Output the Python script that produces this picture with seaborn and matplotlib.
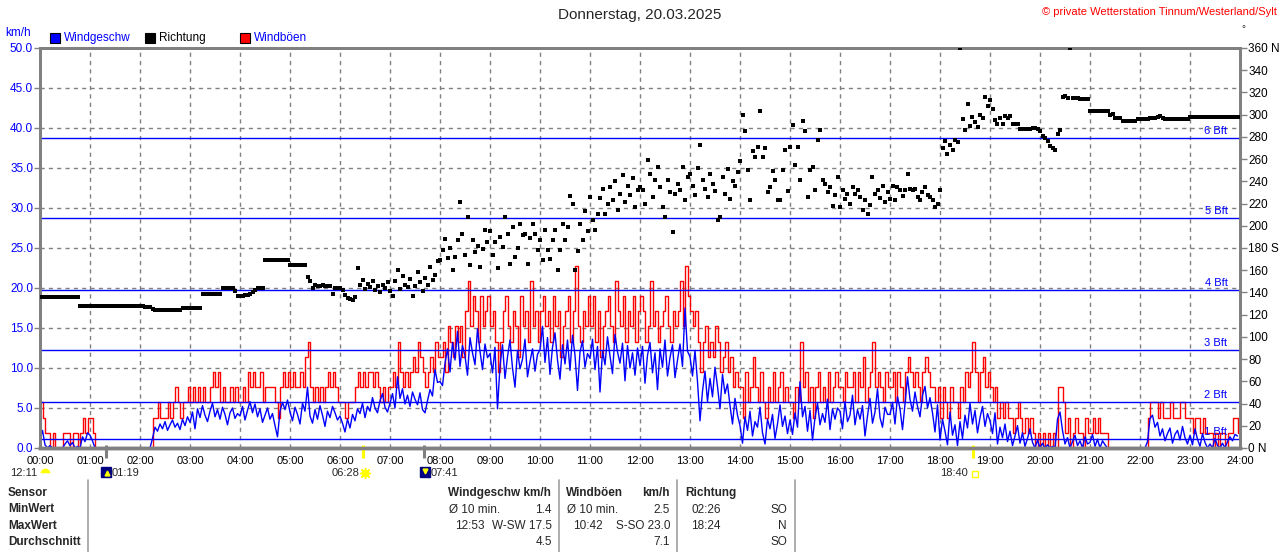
import numpy as np
import pandas as pd
import seaborn as sns
import matplotlib.pyplot as plt
from matplotlib.patches import Rectangle
from matplotlib.lines import Line2D

### Data: 3-minute samples, 20 values per hour (one row = one hour)
step_min = 3

wind_kmh = [
    1.1, 2.2, 0.4, 0.0, 0.3, 0.0, 0.0, 0.0, 0.0, 0.0, 0.5, 0.9, 0.3, 0.7, 0.0, 0.2, 0.0, 1.4, 0.8, 1.9,
    1.6, 0.9, 0.0, 0.0, 0.0, 0.0, 0.0, 0.0, 0.0, 0.0, 0.0, 0.0, 0.0, 0.0, 0.0, 0.0, 0.0, 0.0, 0.0, 0.0,
    0.0, 0.0, 0.0, 0.0, 0.0, 1.2, 2.6, 2.1, 3.0, 2.4, 3.3, 2.2, 2.9, 3.5, 2.6, 3.1, 2.3, 3.6, 2.8, 3.9,
    3.2, 4.5, 2.4, 4.9, 3.8, 5.3, 4.1, 3.3, 4.6, 5.6, 3.9, 4.8, 3.6, 5.1, 4.2, 2.9, 4.4, 5.0, 3.7, 4.3,
    4.0, 5.2, 3.5, 4.7, 5.8, 4.4, 5.5, 3.9, 4.9, 3.2, 4.1, 5.0, 3.6, 4.3, 2.8, 1.4, 4.6, 5.7, 4.8, 6.0,
    4.5, 3.4, 5.1, 4.2, 3.0, 5.6, 4.6, 7.6, 4.0, 3.1, 4.8, 3.6, 5.3, 4.1, 2.7, 4.6, 3.8, 5.2, 4.4, 3.5,
    4.0, 3.1, 2.0, 3.6, 2.5, 4.2, 3.4, 4.9, 4.3, 5.6, 3.8, 5.2, 4.6, 6.3, 5.0, 4.4, 5.9, 6.8, 5.1, 4.5,
    5.6, 6.8, 5.0, 8.9, 6.2, 7.4, 5.5, 6.6, 5.2, 7.0, 6.1, 5.4, 6.9, 4.8, 4.4, 5.9, 7.3, 6.5, 9.8, 8.2,
    8.3, 7.8, 10.6, 12.4, 9.5, 13.2, 11.0, 14.6, 10.2, 12.8, 11.5, 9.1, 13.8, 11.9, 10.4, 14.9, 12.1, 9.8, 13.0, 11.3,
    11.8, 9.4, 12.6, 4.9, 10.3, 12.9, 8.7, 11.4, 13.5, 10.0, 7.6, 12.2, 9.9, 11.1, 13.6, 8.9, 10.8, 12.4, 9.6, 11.7,
    12.3, 15.2, 10.7, 13.8, 9.2, 12.6, 14.4, 11.0, 8.6, 12.9, 10.5, 13.5, 9.7, 14.1, 11.6, 7.2, 12.0, 13.4, 10.1, 11.8,
    11.2, 13.6, 9.8, 12.7, 7.0, 12.1, 10.4, 13.9, 11.5, 9.3, 14.2, 12.0, 10.6, 13.1, 8.4, 12.8, 10.0, 11.9, 9.1, 12.5,
    10.3, 12.7, 8.1, 11.6, 13.2, 9.4, 11.9, 7.3, 12.4, 10.1, 13.5, 9.0, 11.3, 12.9, 8.8, 11.0, 13.0, 10.2, 17.5, 12.1,
    11.4, 9.0, 12.2, 8.3, 3.4, 7.1, 9.6, 5.8, 8.7, 6.4, 10.1, 7.7, 4.9, 9.2, 6.8, 8.0, 5.3, 3.0, 6.2, 4.1,
    2.8, 0.6, 3.9, 2.2, 4.6, 1.5, 3.3, 2.6, 5.1, 1.9, 0.5, 3.6, 2.4, 4.2, 1.2, 3.0, 5.4, 2.7, 4.0, 1.8,
    3.5, 1.7, 4.4, 2.6, 8.3, 3.9, 5.2, 2.1, 4.7, 1.0, 3.8, 5.6, 2.9, 4.3, 3.2, 6.1, 2.3, 4.9, 3.6, 5.0,
    4.6, 2.4, 5.8, 3.3, 4.1, 6.6, 2.9, 4.8, 3.6, 5.3, 1.5, 4.0, 6.2, 3.1, 4.5, 7.4, 3.8, 2.6, 5.1, 4.2,
    4.2, 5.7, 3.0, 6.4, 4.9, 2.3, 5.5, 8.9, 6.1, 4.6, 7.0, 5.2, 3.9, 6.6, 7.7, 5.0, 6.3, 4.4, 2.0, 5.4,
    1.0, 3.6, 2.1, 0.4, 4.5, 1.6, 2.9, 0.3, 3.3, 1.2, 4.1, 2.5, 5.6, 3.0, 4.7, 1.9, 3.8, 5.2, 2.7, 4.3,
    3.4, 1.8, 4.4, 0.5, 2.6, 1.3, 3.0, 0.8, 2.1, 0.3, 1.5, 2.8, 0.6, 1.9, 0.2, 1.2, 2.4, 0.7, 0.0, 1.0,
    0.0, 0.6, 0.0, 0.4, 0.0, 0.2, 0.0, 3.6, 4.5, 2.2, 0.5, 1.3, 0.0, 0.8, 1.6, 0.3, 0.9, 0.0, 1.4, 0.5,
    0.7, 1.7, 0.2, 1.1, 0.0, 0.9, 0.4, 0.0, 0.0, 0.0, 0.0, 0.0, 0.0, 0.0, 0.0, 0.0, 0.0, 0.0, 0.0, 0.0,
    0.0, 0.0, 0.0, 0.8, 3.7, 4.1, 2.6, 3.2, 1.5, 2.4, 0.9, 1.8, 2.5, 0.6, 1.7, 2.2, 1.0, 2.7, 1.3, 0.5,
    1.6, 0.4, 2.4, 1.1, 0.2, 1.8, 0.7, 0.0, 0.5, 0.0, 1.2, 0.3, 0.0, 0.6, 0.0, 0.8, 1.4, 0.9, 1.7, 1.5,
]

gust_kmh = [
    5.7, 3.8, 1.9, 1.9, 0.0, 1.9, 0.0, 0.0, 0.0, 1.9, 1.9, 1.9, 0.0, 1.9, 1.9, 0.0, 1.9, 3.8, 1.9, 3.8,
    3.8, 1.9, 0.0, 0.0, 0.0, 0.0, 0.0, 0.0, 0.0, 0.0, 0.0, 0.0, 0.0, 0.0, 0.0, 0.0, 0.0, 0.0, 0.0, 0.0,
    0.0, 0.0, 0.0, 0.0, 0.0, 3.8, 3.8, 5.7, 3.8, 3.8, 3.8, 5.7, 3.8, 5.7, 7.6, 5.7, 3.8, 5.7, 5.7, 7.6,
    5.7, 7.6, 5.7, 7.6, 5.7, 7.6, 5.7, 5.7, 7.6, 9.5, 7.6, 9.5, 5.7, 7.6, 5.7, 5.7, 7.6, 5.7, 7.6, 5.7,
    5.7, 7.6, 5.7, 9.5, 7.6, 9.5, 7.6, 7.6, 9.5, 5.7, 7.6, 7.6, 7.6, 7.6, 5.7, 3.8, 7.6, 9.5, 7.6, 9.5,
    7.6, 9.5, 7.6, 7.6, 9.5, 7.6, 11.4, 13.3, 7.6, 5.7, 7.6, 5.7, 7.6, 5.7, 7.6, 9.5, 7.6, 9.5, 7.6, 5.7,
    5.7, 5.7, 3.8, 5.7, 5.7, 5.7, 7.6, 9.5, 7.6, 9.5, 7.6, 9.5, 9.5, 7.6, 9.5, 7.6, 5.7, 7.6, 5.7, 7.6,
    7.6, 9.5, 7.6, 13.3, 9.5, 7.6, 9.5, 7.6, 9.5, 11.4, 9.5, 13.3, 11.4, 9.5, 7.6, 9.5, 11.4, 9.5, 13.3, 11.4,
    11.4, 13.3, 9.5, 15.2, 13.3, 11.4, 15.2, 13.3, 15.2, 11.4, 17.1, 20.9, 15.2, 19.0, 17.1, 13.3, 19.0, 15.2, 17.1, 19.0,
    15.2, 17.1, 13.3, 9.5, 13.3, 17.1, 19.0, 15.2, 13.3, 17.1, 15.2, 11.4, 19.0, 15.2, 17.1, 13.3, 20.9, 15.2, 17.1, 13.3,
    17.1, 19.0, 15.2, 17.1, 13.3, 19.0, 15.2, 17.1, 11.4, 15.2, 17.1, 19.0, 13.3, 17.1, 22.8, 15.2, 13.3, 17.1, 15.2, 19.0,
    15.2, 19.0, 13.3, 17.1, 11.4, 15.2, 17.1, 19.0, 15.2, 13.3, 20.9, 17.1, 15.2, 19.0, 13.3, 17.1, 15.2, 19.0, 13.3, 17.1,
    19.0, 17.1, 13.3, 15.2, 20.9, 15.2, 17.1, 13.3, 15.2, 17.1, 19.0, 15.2, 13.3, 17.1, 15.2, 17.1, 20.9, 15.2, 22.8, 19.0,
    17.1, 15.2, 17.1, 13.3, 9.5, 13.3, 15.2, 11.4, 13.3, 11.4, 15.2, 13.3, 9.5, 11.4, 13.3, 9.5, 11.4, 7.6, 9.5, 7.6,
    7.6, 3.8, 9.5, 5.7, 7.6, 11.4, 7.6, 5.7, 9.5, 5.7, 3.8, 7.6, 5.7, 9.5, 5.7, 7.6, 9.5, 5.7, 7.6, 5.7,
    5.7, 3.8, 7.6, 5.7, 13.3, 7.6, 9.5, 5.7, 7.6, 3.8, 7.6, 9.5, 5.7, 7.6, 5.7, 9.5, 5.7, 7.6, 9.5, 7.6,
    7.6, 5.7, 9.5, 7.6, 7.6, 9.5, 5.7, 9.5, 7.6, 11.4, 5.7, 7.6, 9.5, 13.3, 7.6, 9.5, 7.6, 5.7, 9.5, 7.6,
    7.6, 9.5, 5.7, 9.5, 7.6, 5.7, 9.5, 11.4, 9.5, 7.6, 9.5, 7.6, 5.7, 9.5, 11.4, 9.5, 7.6, 7.6, 5.7, 7.6,
    3.8, 7.6, 5.7, 3.8, 7.6, 5.7, 5.7, 3.8, 7.6, 5.7, 9.5, 7.6, 9.5, 13.3, 9.5, 5.7, 9.5, 11.4, 7.6, 9.5,
    7.6, 5.7, 7.6, 3.8, 5.7, 3.8, 5.7, 3.8, 3.8, 1.9, 3.8, 5.7, 3.8, 1.9, 3.8, 1.9, 3.8, 1.9, 0.0, 1.9,
    0.0, 1.9, 0.0, 1.9, 0.0, 1.9, 0.0, 7.6, 7.6, 5.7, 1.9, 3.8, 0.0, 1.9, 3.8, 1.9, 1.9, 0.0, 3.8, 1.9,
    1.9, 3.8, 1.9, 3.8, 1.9, 1.9, 1.9, 0.0, 0.0, 0.0, 0.0, 0.0, 0.0, 0.0, 0.0, 0.0, 0.0, 0.0, 0.0, 0.0,
    0.0, 0.0, 0.0, 3.8, 5.7, 5.7, 5.7, 3.8, 5.7, 3.8, 3.8, 3.8, 5.7, 3.8, 3.8, 3.8, 5.7, 5.7, 3.8, 3.8,
    3.8, 1.9, 3.8, 3.8, 1.9, 3.8, 1.9, 1.9, 1.9, 0.0, 1.9, 0.0, 1.9, 1.9, 0.0, 1.9, 1.9, 3.8, 3.8, 1.9,
]

dir_deg = [
    136, 136, 136, 136, 136, 136, 136, 136, 136, 136, 136, 136, 136, 136, 136, 136, 128, 128, 128, 128,
    128, 128, 128, 128, 128, 128, 128, 128, 128, 128, 128, 128, 128, 128, 128, 128, 128, 128, 128, 128,
    128, 128, 127, 127, 127, 125, 124, 124, 124, 124, 124, 124, 124, 124, 124, 124, 124, 126, 126, 126,
    126, 126, 126, 126, 126, 139, 139, 139, 139, 139, 139, 139, 139, 144, 144, 144, 144, 144, 141, 137,
    137, 137, 138, 138, 139, 140, 142, 144, 144, 144, 169, 169, 169, 169, 169, 169, 169, 169, 169, 169,
    165, 165, 165, 165, 165, 165, 165, 154, 150, 144, 147, 146, 146, 147, 146, 146, 146, 139, 144, 144,
    144, 142, 138, 135, 134, 133, 136, 162, 147, 151, 143, 148, 145, 150, 142, 146, 140, 147, 144, 149,
    141, 137, 150, 160, 143, 155, 147, 145, 152, 137, 146, 158, 149, 141, 153, 147, 163, 151, 156, 168,
    169, 178, 188, 171, 180, 160, 172, 187, 221, 193, 174, 208, 165, 187, 176, 182, 163, 179, 196, 185,
    195, 174, 185, 162, 190, 181, 208, 193, 166, 199, 172, 180, 202, 192, 193, 166, 189, 202, 193, 178,
    187, 169, 196, 178, 170, 187, 196, 160, 178, 202, 187, 199, 227, 220, 160, 177, 202, 187, 213, 195,
    226, 205, 196, 211, 225, 233, 211, 220, 235, 223, 240, 214, 229, 246, 221, 236, 228, 243, 217, 232,
    235, 232, 220, 259, 247, 226, 241, 253, 235, 217, 208, 241, 230, 194, 229, 238, 232, 253, 223, 244,
    247, 236, 228, 252, 273, 241, 233, 226, 247, 238, 231, 205, 208, 244, 229, 251, 224, 240, 236, 248,
    258, 300, 285, 250, 223, 267, 262, 271, 303, 262, 270, 230, 235, 249, 241, 223, 223, 250, 268, 231,
    271, 291, 255, 271, 241, 294, 285, 226, 250, 253, 232, 277, 286, 241, 238, 230, 235, 218, 228, 244,
    217, 232, 224, 229, 220, 235, 229, 232, 226, 214, 223, 211, 219, 244, 229, 232, 225, 236, 221, 230,
    224, 236, 223, 235, 232, 227, 232, 247, 233, 232, 233, 226, 223, 230, 235, 228, 226, 223, 217, 220,
    232, 270, 276, 265, 273, 268, 277, 275, 360, 296, 286, 310, 290, 298, 293, 289, 300, 297, 316, 308,
    313, 305, 295, 292, 297, 292, 299, 297, 299, 292, 292, 292, 287, 287, 287, 287, 287, 288, 288, 287,
    285, 281, 279, 276, 272, 270, 268, 283, 286, 316, 317, 315, 360, 315, 315, 315, 314, 314, 314, 314,
    303, 303, 303, 303, 303, 303, 303, 303, 300, 301, 297, 297, 297, 294, 294, 294, 294, 294, 294, 296,
    296, 296, 296, 296, 297, 297, 297, 298, 299, 297, 296, 296, 296, 296, 296, 296, 296, 296, 296, 296,
    298, 298, 298, 298, 298, 298, 298, 298, 298, 298, 298, 298, 298, 298, 298, 298, 298, 298, 298, 298,
]

## Beaufort thresholds (km/h)
bft_kmh = [1.1, 5.8, 12.2, 19.8, 28.8, 38.8]
bft_labels = ["1 Bft", "2 Bft", "3 Bft", "4 Bft", "5 Bft", "6 Bft"]

## Sun / moon events below the time axis
event_times = ["01:19", "06:28", "07:41", "18:40"]
event_colors = ["#808080", "#ffff00", "#808080", "#ffff00"]

## Summary table
table_rows = ["Sensor", "MinWert", "MaxWert", "Durchschnitt"]


def px(x, y):
    """Pixel position (from top-left) to figure fraction."""
    return x / 1280, 1 - y / 552


def ftext(x, y, s, **kw):
    fx, fy = px(x, y)
    kw.setdefault('va', 'center')
    fig.text(fx, fy, s, **kw)


def fmarker(x, y, **kw):
    fx, fy = px(x, y)
    fig.add_artist(Line2D([fx], [fy], transform=fig.transFigure, linestyle='none', **kw))


df = pd.DataFrame({'hour': np.arange(len(wind_kmh)) * step_min / 60.0,
                   'wind': wind_kmh, 'gust': gust_kmh, 'dir': dir_deg})

sns.set_style("white")
plt.rcParams['font.family'] = ['Liberation Sans', 'DejaVu Sans']
plt.rcParams['font.size'] = 8

fig = plt.figure(figsize=(12.8, 5.52), dpi=100)
ax = fig.add_axes([40 / 1280, 1 - 448 / 552, 1200 / 1280, 400 / 552])

## Wind gusts (steps) and wind speed
sns.lineplot(data=df, x='hour', y='gust', ax=ax, color='#ff0000', lw=1,
             drawstyle='steps-post', zorder=2)
sns.lineplot(data=df, x='hour', y='wind', ax=ax, color='#0000ff', lw=1, zorder=2.5)

## Beaufort lines
for v, lab in zip(bft_kmh, bft_labels):
    ax.axhline(v, color='#0000ff', lw=1, zorder=2.8)
    ax.annotate(lab, xy=(23.75, v), xytext=(0, 1.5), textcoords='offset points',
                ha='right', va='bottom', color='#0000ff', fontsize=8)

ax.set_xlim(0, 24)
ax.set_ylim(0, 50)
ax.set_xticks(range(25))
ax.set_xticklabels([f"{h:02d}:00" for h in range(25)])
yt = np.arange(0, 50.1, 5)
ax.set_yticks(yt)
ax.set_yticklabels([f"{v:.1f}" for v in yt])
ax.grid(True, color='#808080', linestyle=(0, (3, 3)), linewidth=1)
ax.set_axisbelow(True)
ax.set_xlabel('')
ax.set_ylabel('')
ax.tick_params(axis='x', length=0, pad=6, labelsize=8, labelcolor='black')
ax.tick_params(axis='y', length=4, width=1, color='#808080', labelcolor='#0000ff',
               labelsize=8.5, pad=1)

## Wind direction on the right axis
ax2 = ax.twinx()
sns.scatterplot(data=df, x='hour', y='dir', ax=ax2, marker='s', s=6, color='black',
                linewidth=0, zorder=3)
ax2.set_ylim(0, 360)
ax2.set_xlim(0, 24)
dir_ticks = list(range(0, 361, 20))
dir_labels = [f"{d} N" if d in (0, 360) else (f"{d} S" if d == 180 else str(d)) for d in dir_ticks]
ax2.set_yticks(dir_ticks)
ax2.set_yticklabels(dir_labels)
ax2.set_ylabel('')
ax2.set_xlabel('')
ax2.tick_params(axis='y', length=5, width=1, color='#808080', labelcolor='black',
                labelsize=8.5, pad=1)

for a in (ax, ax2):
    for side, sp in a.spines.items():
        sp.set_visible(True)
        sp.set_color('#808080')
        sp.set_linewidth(2)
    a.spines['bottom'].set_linewidth(2.5)

## Event ticks on the time axis
for t, c in zip(event_times, event_colors):
    h = int(t[:2]) + int(t[3:]) / 60
    ax.vlines(h, -0.025, 0.008, transform=ax.get_xaxis_transform(), colors=c,
              lw=2.2, clip_on=False, zorder=5)

## Event texts and icons
ftext(10, 473, "12:11")
fmarker(45, 473, marker='o', markersize=7, fillstyle='top', markerfacecolor='#ffff00',
        markerfacecoloralt='white', markeredgewidth=0)
ftext(112, 473, "01:19")
fmarker(106, 472, marker='s', markersize=7.5, color='#000080')
fmarker(107, 473, marker='^', markersize=3.5, color='#ffff00')
ftext(359, 473, "06:28", ha='right')
fmarker(365, 473, marker=(8, 2, 0), markersize=8, markeredgecolor='#ffff00', markeredgewidth=1)
fmarker(365, 473, marker='o', markersize=4.5, color='#ffff00')
ftext(431, 473, "07:41")
fmarker(425, 472, marker='s', markersize=7.5, color='#000080')
fmarker(425, 471, marker='v', markersize=3.5, color='#ffff00')
ftext(968, 473, "18:40", ha='right')
fmarker(975, 474, marker='s', markersize=4.5, markerfacecolor='none',
        markeredgecolor='#ffff00', markeredgewidth=1)

## Header: title, copyright, legend
ftext(640, 15, "Donnerstag, 20.03.2025", ha='center', fontsize=11)
ftext(1277, 12, "\u00a9 private Wetterstation Tinnum/Westerland/Sylt", ha='right',
      color='#ff0000', fontsize=8)
ftext(1243, 29, "\u00b0", ha='center', fontsize=7)
ftext(5, 33, "km/h", color='#0000ff', fontsize=8.5)

legend_items = [(50, "#0000ff", "Windgeschw", "#0000ff"),
                (145, "#000000", "Richtung", "#000000"),
                (240, "#ff0000", "Windböen", "#0000ff")]
for x0, fc, lab, tc in legend_items:
    fx, fy = px(x0, 43)
    fig.add_artist(Rectangle((fx, fy), 10 / 1280, 10 / 552, transform=fig.transFigure,
                             facecolor=fc, edgecolor='black', lw=0.8))
    ftext(x0 + 14, 38, lab, color=tc, fontsize=8.5)

## Summary table
for x in (88, 559, 677, 795):
    fx, fy = px(x, 480)
    fig.add_artist(Line2D([fx, fx], [fy, 0], transform=fig.transFigure, color='#a0a0a0', lw=1.2))

for i, lab in enumerate(table_rows):
    ftext(8, 493 + 16.3 * i, lab, fontweight='bold', fontsize=8.5)

ftext(448, 493, "Windgeschw km/h", fontweight='bold', fontsize=8.5)
ftext(449, 510, "Ø 10 min.", fontsize=8.5)
ftext(552, 510, "1.4", ha='right', fontsize=8.5)
ftext(455, 526, "12:53", fontsize=8.5)
ftext(552, 526, "W-SW 17.5", ha='right', fontsize=8.5)
ftext(552, 542, "4.5", ha='right', fontsize=8.5)

ftext(566, 493, "Windböen", fontweight='bold', fontsize=8.5)
ftext(670, 493, "km/h", ha='right', fontweight='bold', fontsize=8.5)
ftext(567, 510, "Ø 10 min.", fontsize=8.5)
ftext(670, 510, "2.5", ha='right', fontsize=8.5)
ftext(573, 526, "10:42", fontsize=8.5)
ftext(670, 526, "S-SO 23.0", ha='right', fontsize=8.5)
ftext(670, 542, "7.1", ha='right', fontsize=8.5)

ftext(685, 493, "Richtung", fontweight='bold', fontsize=8.5)
ftext(691, 510, "02:26", fontsize=8.5)
ftext(787, 510, "SO", ha='right', fontsize=8.5)
ftext(691, 526, "18:24", fontsize=8.5)
ftext(787, 526, "N", ha='right', fontsize=8.5)
ftext(787, 542, "SO", ha='right', fontsize=8.5)

fig.savefig('out.png', dpi=100)
plt.close()
